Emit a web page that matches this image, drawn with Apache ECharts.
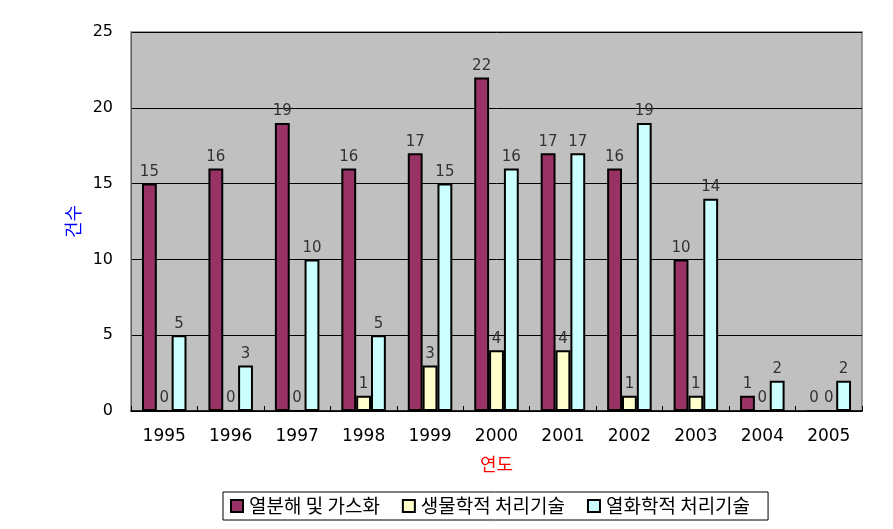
<!DOCTYPE html>
<html><head><meta charset="utf-8">
<script src="https://cdn.jsdelivr.net/npm/echarts@6/dist/echarts.min.js"></script>
<style>html,body{margin:0;padding:0;background:#fff}#c{width:893px;height:529px}</style>
</head><body><div id="c"></div>
<script>
const categories = ['1995','1996','1997','1998','1999','2000','2001','2002','2003','2004','2005'];
const seriesNames = ['열분해 및 가스화','생물학적 처리기술','열화학적 처리기술'];
const pyrolysis = [15,16,19,16,17,22,17,16,10,1,0];
const biological = [0,0,0,1,3,4,4,1,1,0,0];
const thermochemical = [5,3,10,5,15,16,17,19,14,2,2];
const yTicks = [0,5,10,15,20,25];
const colors = ['#993366','#FFFFCC','#CCFFFF'];
const font = '"Noto Sans CJK KR", "DejaVu Sans", sans-serif';
const numFont = '"DejaVu Sans", sans-serif';
const chart = echarts.init(document.getElementById('c'));
const mk = (name, data, color) => ({
  name, type:'bar', data, barGap:'0%', barCategoryGap:'33%',
  itemStyle:{color, borderColor:'#000', borderWidth:2},
  label:{show:true, position:'top', distance:4, color:'#333', fontSize:15, fontFamily:numFont}
});
chart.setOption({
  animation:false,
  backgroundColor:'#fff',
  grid:{left:131, right:31, top:32, bottom:118, show:true, backgroundColor:'#C0C0C0', borderColor:'#808080', borderWidth:1.5},
  legend:{
    top:492, left:223, itemWidth:12, itemHeight:12, itemGap:22,
    borderColor:'#000', borderWidth:1, padding:[4,18,4,7],
    textStyle:{fontFamily:font, fontSize:19, lineHeight:20, color:'#000', padding:[0,0,0,1]},
    data:seriesNames.map((n,i)=>({name:n, icon:'rect', itemStyle:{color:colors[i], borderColor:'#000', borderWidth:2}}))
  },
  xAxis:{
    type:'category', data:categories, name:'연도', nameLocation:'middle', nameGap:44,
    nameTextStyle:{color:'#ff0000', fontSize:18, fontFamily:font},
    axisLine:{lineStyle:{color:'#000', width:1.5}},
    axisTick:{show:true, inside:true, length:5, lineStyle:{color:'#000'}},
    axisLabel:{color:'#000', fontSize:17, fontFamily:numFont, margin:17}
  },
  yAxis:{
    type:'value', min:0, max:25, interval:5, name:'건수', nameLocation:'middle', nameGap:47,
    nameTextStyle:{color:'#0000ff', fontSize:18, fontFamily:font},
    axisLine:{show:true, lineStyle:{color:'#606060'}},
    axisTick:{show:false},
    splitLine:{lineStyle:{color:'#000', width:1}},
    axisLabel:{color:'#000', fontSize:16, fontFamily:numFont, margin:18,
      formatter:v=>yTicks.includes(v)?String(v):''}
  },
  series:[mk(seriesNames[0],pyrolysis,colors[0]), mk(seriesNames[1],biological,colors[1]), mk(seriesNames[2],thermochemical,colors[2])]
});
</script></body></html>
